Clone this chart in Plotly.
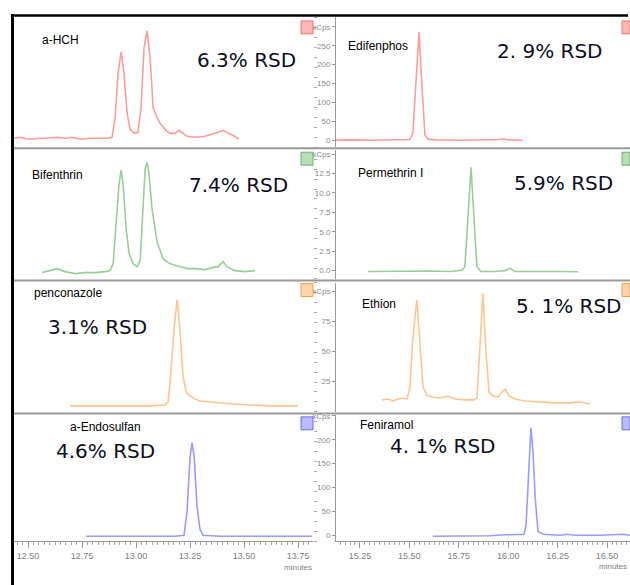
import plotly.graph_objects as go

W, H = 630, 585

# ---------------- data ----------------
names = ["a-HCH", "Bifenthrin", "penconazole", "a-Endosulfan",
         "Edifenphos", "Permethrin I", "Ethion", "Feniramol"]
rsd_labels = ["6.3% RSD", "7.4% RSD", "3.1% RSD", "4.6% RSD",
              "2. 9% RSD", "5.9% RSD", "5. 1% RSD", "4. 1% RSD"]

# left column (retention time, minutes; intensity, arbitrary units)
hch_t = [12.435, 12.463, 12.500, 12.556, 12.602, 12.639, 12.671, 12.704, 12.741, 12.787,
         12.833, 12.870, 12.889, 12.903, 12.917, 12.931, 12.944, 12.958, 12.972, 12.991,
         13.009, 13.023, 13.037, 13.051, 13.065, 13.079, 13.097, 13.111, 13.134, 13.157,
         13.181, 13.199, 13.218, 13.236, 13.273, 13.319, 13.366, 13.403, 13.426, 13.449,
         13.477]
hch_i = [9, 10, 8, 9, 10, 10, 9, 10, 8, 9,
         9, 9, 10, 30, 75, 96, 75, 35, 18, 14,
         15, 40, 100, 117, 90, 40, 30, 24, 18, 14,
         14, 17, 14, 11, 10, 11, 14, 17, 14, 12,
         8]

bif_t = [12.565, 12.602, 12.634, 12.671, 12.718, 12.764, 12.810, 12.857, 12.880, 12.894,
         12.907, 12.921, 12.931, 12.940, 12.954, 12.968, 12.986, 13.005, 13.019, 13.032,
         13.042, 13.051, 13.060, 13.074, 13.097, 13.125, 13.148, 13.171, 13.204, 13.236,
         13.273, 13.319, 13.352, 13.380, 13.403, 13.421, 13.458, 13.505, 13.551]
bif_i = [6, 8, 10, 7, 5, 6, 6, 7, 8, 15,
         50, 95, 109, 95, 50, 25, 15, 12, 18, 70,
         110, 117, 105, 70, 37, 20, 16, 14, 12, 10,
         10, 9, 11, 12, 17, 12, 8, 7, 8]

pen_t = [12.694, 12.787, 12.880, 12.972, 13.065, 13.134, 13.148, 13.162, 13.176, 13.190,
         13.204, 13.218, 13.232, 13.250, 13.273, 13.296, 13.343, 13.389, 13.449, 13.528,
         13.620, 13.690, 13.750]
pen_i = [6, 6, 6, 6, 6, 7, 10, 40, 85, 113,
         80, 35, 20, 16, 13, 11, 10, 9, 8, 7,
         6, 6, 6]

end_t = [12.769, 12.926, 13.065, 13.181, 13.222, 13.236, 13.250, 13.259, 13.269, 13.282,
         13.296, 13.310, 13.389, 13.574, 13.815]
end_i = [5, 5, 5, 5, 6, 30, 85, 99, 85, 35, 12, 6, 5, 5, 5]

# right column (retention time, minutes; intensity, kCps)
edi_t = [15.129, 15.199, 15.301, 15.402, 15.478, 15.503, 15.518, 15.533, 15.549, 15.564,
         15.579, 15.594, 15.630, 15.756, 15.908, 15.948, 15.974, 15.999, 16.075]
edi_i = [0, 1, 0, 1, 0, 2, 20, 140, 287, 140, 15, 3, 1, 0, 1, 2, 4, 1, 0]

per_t = [15.290, 15.402, 15.503, 15.604, 15.705, 15.731, 15.766, 15.781, 15.797, 15.812,
         15.827, 15.842, 15.862, 15.933, 15.984, 16.009, 16.034, 16.161, 16.262, 16.353]
per_i = [-0.1, -0.05, -0.1, -0.05, -0.1, 0.0, 0.05, 0.5, 6.7, 13.3,
         6.7, 0.5, -0.1, -0.1, 0.0, 0.3, -0.1, -0.05, -0.1, -0.15]

eth_t = [15.361, 15.392, 15.417, 15.442, 15.468, 15.488, 15.503, 15.518, 15.538, 15.554,
         15.569, 15.589, 15.614, 15.655, 15.695, 15.731, 15.781, 15.827, 15.842, 15.857,
         15.872, 15.888, 15.903, 15.923, 15.948, 15.969, 15.984, 16.004, 16.034, 16.085,
         16.161, 16.237, 16.313, 16.363, 16.414]
eth_i = [9.2, 10.0, 8.3, 10.0, 10.8, 10.0, 20.0, 61.7, 93.3, 59.2,
         20.0, 13.3, 11.7, 10.8, 12.5, 10.0, 9.2, 9.2, 10.8, 53.3,
         98.3, 49.2, 15.8, 12.5, 11.7, 15.8, 18.3, 12.5, 10.0, 8.3,
         7.5, 6.7, 6.7, 7.5, 5.8]

fen_t = [15.619, 15.756, 15.908, 15.984, 16.060, 16.080, 16.090, 16.100, 16.115, 16.126,
         16.136, 16.151, 16.176, 16.262, 16.298, 16.338, 16.465, 16.581, 16.616]
fen_i = [-2, -2, -1, 1, 2, 2, 20, 110, 225, 170, 80, 8, 2, 0, 2, 0, 0, 2, 0]

left_ticks = [12.50, 12.75, 13.00, 13.25, 13.50, 13.75]
right_ticks = [15.25, 15.50, 15.75, 16.00, 16.25, 16.50]

edi_yticks = [0, 50, 100, 150, 200, 250, 300]
edi_ytext = ["0", "50", "100", "150", "200", "250", "kCps"]
per_yticks = [0, 2.5, 5, 7.5, 10, 12.5, 15]
per_ytext = ["0.0", "2.5", "5.0", "7.5", "10.0", "12.5", "kCps"]
eth_yticks = [25, 50, 75, 100]
eth_ytext = ["25", "50", "75", "kCps"]
fen_yticks = [0, 50, 100, 150, 200, 250]
fen_ytext = ["0", "50", "100", "150", "200", "kCps"]

# ---------------- styling / layout ----------------
RED, GREEN, ORANGE, BLUE = "#ff9c9c", "#98cf98", "#ffc58f", "#9a9aff"
series = [(hch_t, hch_i, RED), (bif_t, bif_i, GREEN), (pen_t, pen_i, ORANGE), (end_t, end_i, BLUE),
          (edi_t, edi_i, RED), (per_t, per_i, GREEN), (eth_t, eth_i, ORANGE), (fen_t, fen_i, BLUE)]

def px(x):
    return x / W

def py(y):
    return 1 - y / H

rows_px = [(14, 145), (148, 277), (281, 411), (414, 541)]
cols_px = [(14, 313), (336, 630)]
left_range = [12.435, 13.819]
right_range = [15.129, 16.616]
left_yr = [[0, 131], [0, 129], [0, 130], [0, 127]]
right_yr = [[-18.4, 326.1], [-1.02, 15.49], [-0.83, 107.5], [-12.5, 252]]
right_yt = [(edi_yticks, edi_ytext), (per_yticks, per_ytext), (eth_yticks, eth_ytext), (fen_yticks, fen_ytext)]

fig = go.Figure()
layout = {}
tickfont = dict(family="Liberation Sans Narrow, Arial Narrow, sans-serif", size=9, color="#808080")

for k, (t, inten, col) in enumerate(series):
    n = k + 1
    c = k // 4
    r = k % 4
    fig.add_trace(go.Scatter(x=t, y=inten, mode="lines", line=dict(color=col, width=1.6),
                             xaxis=f"x{n}", yaxis=f"y{n}", showlegend=False, hoverinfo="skip"))
    x0, x1 = cols_px[c]
    top, bot = rows_px[r]
    xa = dict(domain=[px(x0), px(x1)], range=left_range if c == 0 else right_range,
              anchor=f"y{n}", showgrid=False, zeroline=False, fixedrange=True)
    if r == 3:
        xa.update(showticklabels=True, ticks="outside", ticklen=6, tickcolor="#999",
                  tickmode="array", tickvals=left_ticks if c == 0 else right_ticks,
                  ticktext=[f"{v:.2f}" for v in (left_ticks if c == 0 else right_ticks)],
                  tickfont=tickfont, showline=True, linecolor="#999", linewidth=1,
                  minor=dict(ticks="outside", ticklen=3, dtick=0.025,
                             tick0=12.5 if c == 0 else 15.25, tickcolor="#aaa"))
    else:
        xa.update(showticklabels=False, ticks="", showline=False)
    ya = dict(domain=[py(bot), py(top)], anchor=f"x{n}", showgrid=False, zeroline=False,
              fixedrange=True)
    if c == 0:
        ya.update(range=left_yr[r], side="right", showticklabels=False, ticks="outside",
                  ticklen=3, dtick=10, tickcolor="#aaa", showline=False)
    else:
        tv, tt = right_yt[r]
        ya.update(range=right_yr[r], side="left", showticklabels=True, tickmode="array",
                  tickvals=tv, ticktext=tt, ticks="outside", ticklen=3, tickcolor="#999",
                  tickfont=dict(family="Liberation Sans Narrow, Arial Narrow, sans-serif",
                                size=8, color="#8a8a8a"),
                  showline=True, linecolor="#999", linewidth=1)
    layout[f"xaxis{n}"] = xa
    layout[f"yaxis{n}"] = ya

# annotation positions (pixels) for names and RSD texts
name_pos = [(40, 37), (30, 173), (32, 291), (68, 426), (346, 43), (356, 171), (360, 303), (358, 424)]
rsd_pos = [(195, 57), (187, 183), (46, 326), (54, 450), (495, 48), (512, 181), (514, 305), (388, 445)]

annotations = []
for k in range(8):
    nx, ny = name_pos[k]
    annotations.append(dict(x=px(nx), y=py(ny), xref="paper", yref="paper", text=names[k],
                            showarrow=False, xanchor="left", yanchor="middle",
                            font=dict(family="Liberation Sans Narrow, Arial Narrow, sans-serif",
                                      size=12, color="#000")))
    rx, ry = rsd_pos[k]
    annotations.append(dict(x=px(rx), y=py(ry), xref="paper", yref="paper", text=rsd_labels[k],
                            showarrow=False, xanchor="left", yanchor="middle",
                            font=dict(family="DejaVu Sans, Verdana, sans-serif", size=20,
                                      color="#0d0d1f")))
annotations.append(dict(x=px(298), y=py(567), xref="paper", yref="paper", text="minutes",
                        showarrow=False, xanchor="center", yanchor="middle",
                        font=dict(family="Liberation Sans Narrow, Arial Narrow, sans-serif",
                                  size=8, color="#808080")))
annotations.append(dict(x=px(629), y=py(566), xref="paper", yref="paper", text="minutes",
                        showarrow=False, xanchor="right", yanchor="middle",
                        font=dict(family="Liberation Sans Narrow, Arial Narrow, sans-serif",
                                  size=8, color="#808080")))

shapes = []
# outer frame
shapes.append(dict(type="line", xref="paper", yref="paper", x0=px(12.5), x1=px(12.5),
                   y0=py(11), y1=py(585), line=dict(color="#000", width=3)))
shapes.append(dict(type="line", xref="paper", yref="paper", x0=px(11), x1=px(628),
                   y0=py(12.5), y1=py(12.5), line=dict(color="#000", width=2.5)))
# gray row separators
for ysep in [146, 279, 412.5]:
    shapes.append(dict(type="line", xref="paper", yref="paper", x0=px(14), x1=px(630),
                       y0=py(ysep), y1=py(ysep), line=dict(color="#9a9a9a", width=2)))
# small coloured markers at panel top-right corners
icon_cols = [("#ffb8b8", "#ff6e6e"), ("#b8ddb8", "#6fb06f"), ("#ffd6ab", "#ff9c40"), ("#babaff", "#6b6bee")]
icon_rows = [(18, 31), (150, 163), (282, 295), (416, 429)]
for r in range(4):
    y0, y1 = icon_rows[r]
    fill, edge = icon_cols[r]
    for (x0, x1) in [(301, 313), (622, 630)]:
        shapes.append(dict(type="rect", xref="paper", yref="paper", x0=px(x0), x1=px(x1),
                           y0=py(y1), y1=py(y0), fillcolor=fill, line=dict(color=edge, width=1)))

fig.update_layout(width=W, height=H, margin=dict(l=0, r=0, t=0, b=0),
                  paper_bgcolor="white", plot_bgcolor="white",
                  annotations=annotations, shapes=shapes, **layout)

fig.write_html("out.html")
